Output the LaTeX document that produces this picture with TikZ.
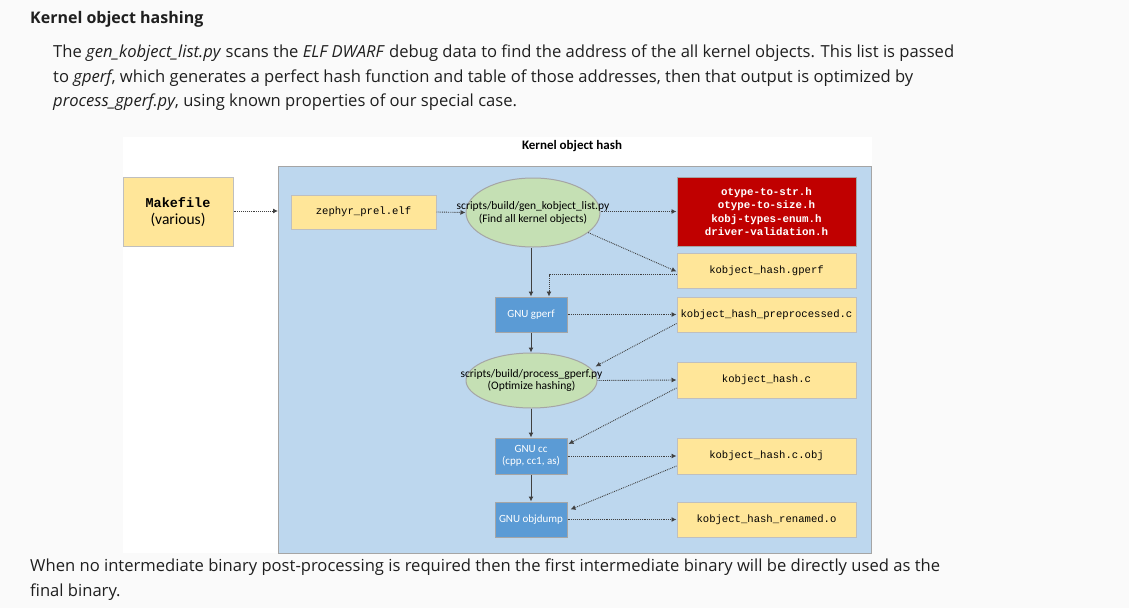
\documentclass[tikz,border=0pt]{standalone}
\usepackage{fontspec}
\setmainfont{Open Sans}
\newfontfamily\calfont{Carlito}
\newfontfamily\courfont{Liberation Mono}
\usetikzlibrary{shapes.geometric,arrows.meta}
\definecolor{pagebg}{HTML}{FAFAFA}
\definecolor{txt}{HTML}{1F1F1F}
\definecolor{contfill}{HTML}{BDD7EE}
\definecolor{contline}{HTML}{A5A5A5}
\definecolor{filefill}{HTML}{FFE699}
\definecolor{fileline}{HTML}{BFBFBF}
\definecolor{procfill}{HTML}{C5E0B4}
\definecolor{toolfill}{HTML}{5B9BD5}
\definecolor{redfill}{HTML}{C00000}
\definecolor{arr}{HTML}{404040}
\tikzset{
  filebox/.style={draw=fileline, fill=filefill, line width=1pt, inner sep=0pt, font=\courfont\fontsize{10.6}{12}\selectfont},
  toolbox/.style={draw=contline, fill=toolfill, line width=1pt, inner sep=0pt, text=white, font=\calfont\fontsize{11}{12.5}\selectfont, align=center},
  procell/.style={ellipse, draw=contline, fill=procfill, line width=1pt, inner sep=0pt},
  proctext/.style={inner sep=0pt, font=\calfont\fontsize{11.5}{12.5}\selectfont, align=center},
  dotarr/.style={arr, densely dotted, line width=0.9pt, -{Latex[length=5pt,width=5pt]}},
  solarr/.style={arr, line width=1pt, -{Latex[length=5pt,width=5pt]}},
  body/.style={anchor=base west, inner sep=0pt, text=txt, font=\fontsize{16.6}{19}\selectfont}
}
\begin{document}
\begin{tikzpicture}[x=1pt,y=-1pt]
\fill[pagebg] (0,0) rectangle (1129,608);
\useasboundingbox (0,0) rectangle (1129,608);
\fill[white] (123,137) rectangle (872,553);

% text
\node[body, font=\bfseries\fontsize{16}{19}\selectfont] (h) at (30,23) {Kernel object hashing};
\node[body] (p1) at (53,57.5) {The \textit{gen\_kobject\_list.py} scans the \textit{ELF DWARF} debug data to find the address of the all kernel objects. This list is passed};
\node[body] (p2) at (53,82) {to \textit{gperf}, which generates a perfect hash function and table of those addresses, then that output is optimized by};
\node[body] (p3) at (53,106.5) {\textit{process\_gperf.py}, using known properties of our special case.};
\node[body] (p4) at (30,571.5) {When no intermediate binary post-processing is required then the first intermediate binary will be directly used as the};
\node[body] (p5) at (30,596) {final binary.};

% diagram
\node[font=\calfont\bfseries\fontsize{13}{15}\selectfont, text=black] (title) at (572,146) {Kernel object hash};
\node[draw=contline, fill=contfill, line width=1pt, minimum width=593pt, minimum height=387pt, inner sep=0pt] (cont) at (574.5,359.5) {};
\coordinate (cin) at (278,211);

\node[filebox, minimum width=110pt, minimum height=69pt] (mk) at (178,211.5) {};
\node[inner sep=0pt, font=\courfont\bfseries\fontsize{13.5}{15}\selectfont] (mkt) at (178,202.5) {Makefile};
\node[inner sep=0pt, font=\calfont\fontsize{15.5}{17}\selectfont] (mkv) at (178,219.5) {(various)};

\node[filebox, minimum width=145pt, minimum height=34pt] (elf) at (363.5,212) {zephyr\_prel.elf};
\node[procell, minimum width=134pt, minimum height=69pt] (gen) at (533,212.5) {};
\node[proctext] (gent) at (533,213) {scripts/build/gen\_kobject\_list.py\\(Find all kernel objects)};
\node[draw=contline, fill=redfill, line width=1pt, minimum width=179pt, minimum height=69pt, inner sep=0pt, text=white, align=center, font=\courfont\bfseries\fontsize{10.8}{13.3}\selectfont] (red) at (766.5,211.5) {otype-to-str.h\\otype-to-size.h\\kobj-types-enum.h\\driver-validation.h};
\node[filebox, minimum width=179pt, minimum height=35pt] (gperff) at (766.5,270.5) {kobject\_hash.gperf};
\node[toolbox, minimum width=72pt, minimum height=35pt] (gperf) at (531,314.5) {GNU gperf};
\node[filebox, minimum width=179pt, minimum height=35pt] (pre) at (766.5,314.5) {kobject\_hash\_preprocessed.c};
\node[procell, minimum width=131pt, minimum height=55pt] (proc) at (531.5,380.5) {};
\node[proctext] (proct) at (531.5,380.5) {scripts/build/process\_gperf.py\\(Optimize hashing)};
\node[filebox, minimum width=179pt, minimum height=36pt] (hc) at (766.5,380) {kobject\_hash.c};
\node[toolbox, minimum width=72pt, minimum height=36pt] (cc) at (531,456) {GNU cc\\(cpp, cc1, as)};
\node[filebox, minimum width=179pt, minimum height=36pt] (obj) at (766.5,456) {kobject\_hash.c.obj};
\node[toolbox, minimum width=72pt, minimum height=35pt] (od) at (531,519.5) {GNU objdump};
\node[filebox, minimum width=179pt, minimum height=35pt] (ren) at (766.5,519.5) {kobject\_hash\_renamed.o};

% connectors
\draw[dotarr] (mk.east |- cin) -- (cin);
\draw[dotarr] (elf.east) -- (gen.west);
\draw[dotarr] (gen.east |- red.west) -- (red.west);
\draw[dotarr] (gen.-20) -- ([yshift=-1pt]gperff.west);
\draw[solarr] (gen.south -| gperf.north) -- (gperf.north);
\draw[dotarr] (gperff.west) ++(0,4) -| ([xshift=18pt]gperf.north);
\draw[dotarr] (gperf.east) -- (pre.west);
\draw[solarr] (gperf.south) -- (proc.north -| gperf.south);
\draw[dotarr] ([yshift=-9pt]pre.west) -- ([xshift=-2pt,yshift=14pt]proc.east);
\draw[dotarr] (proc.east) -- (hc.west);
\draw[solarr] (proc.south -| cc.north) -- (cc.north);
\draw[dotarr] ([yshift=-8pt]hc.west) -- ([xshift=1pt,yshift=12pt]cc.east);
\draw[dotarr] (cc.east) -- (obj.west);
\draw[solarr] (cc.south) -- (od.north);
\draw[dotarr] ([yshift=-10pt]obj.west) -- ([xshift=3pt,yshift=10pt]od.east);
\draw[dotarr] (od.east) -- (ren.west);
\end{tikzpicture}
\end{document}
